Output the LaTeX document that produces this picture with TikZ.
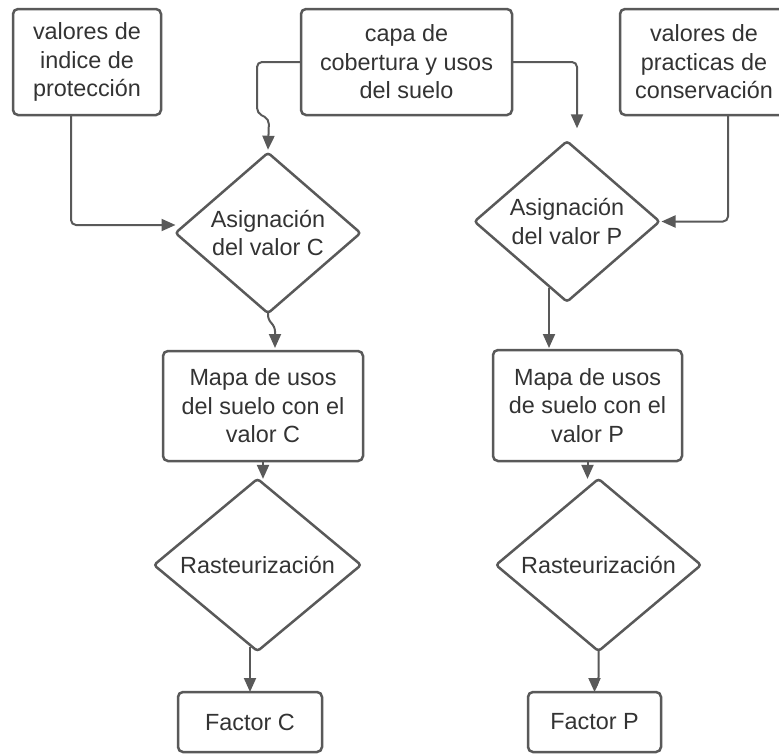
\documentclass[tikz,border=0pt]{standalone}
\usepackage{fontspec}
\setmainfont{Liberation Sans}
\usetikzlibrary{shapes.geometric,arrows.meta,calc}
\definecolor{linec}{HTML}{595959}
\definecolor{textc}{HTML}{333333}
\tikzset{
  base/.style={draw=linec, line width=2.5pt, fill=white, inner sep=0pt, outer sep=0pt,
    align=center, text=textc, font=\fontsize{23.4}{28.5}\selectfont},
  procbox/.style={base, rectangle, rounded corners=5pt},
  decbox/.style={base, diamond, rounded corners=3pt},
  wire/.style={draw=linec, line width=2pt, rounded corners=5pt},
  conn/.style={wire, -{Triangle[length=14pt,width=12pt]}}
}
\begin{document}
\begin{tikzpicture}[x=1pt,y=-1pt]
\useasboundingbox (0,0) rectangle (779,755);
% top row
\node[procbox, minimum width=148pt, minimum height=106pt] (b1) at (87,62) {valores de\\indice de\\protección};
\node[procbox, minimum width=211pt, minimum height=106pt] (b2) at (406.5,62) {capa de\\cobertura y usos\\del suelo};
\node[procbox, minimum width=168pt, minimum height=106pt] (b3) at (704,62) {valores de\\practicas de\\conservación};
% decisions
\node[decbox, minimum width=185pt, minimum height=144pt] (dC) at (268,233) {Asignación\\del valor C};
\node[decbox, minimum width=185pt, minimum height=145pt] (dP) at (567,221.5) {Asignación\\del valor P};
% maps
\node[procbox, minimum width=200pt, minimum height=110pt] (MC) at (263,406) {Mapa de usos\\del suelo con el\\valor C};
\node[procbox, minimum width=189pt, minimum height=111pt] (MP) at (587.5,405.5) {Mapa de usos\\de suelo con el\\valor P};
% rasterization
\node[decbox, minimum width=207pt, minimum height=122pt] (RC) at (257.5,565) {Rasteurización};
\node[decbox, minimum width=205pt, minimum height=122pt] (RP) at (598.5,565) {Rasteurización};
% factors
\node[procbox, minimum width=144pt, minimum height=60pt] (FC) at (250,722) {Factor C};
\node[procbox, minimum width=133pt, minimum height=60pt] (FP) at (594.5,722) {Factor P};
% connectors
\draw[conn] ($(b1.south)+(-16,0)$) |- ($(dC.west)+(0,-8)$);
\draw[conn] (b2.west) -- ++(-44,0) -- ++(0,51) -- ++(12,6) -- ($(dC.north)+(0,-3)$);
\draw[conn] (b2.east) -| ($(dP.north)+(10,-13)$);
\draw[conn] ($(b3.south)+(24,0)$) |- ($(dP.east)+(2,0)$);
\draw[conn] (dC.south) -- ++(0,7) -- ++(7,6) -- ($(MC.north)+(12,-3)$);
\draw[conn] ($(dP.south)+(-18,-14)$) -- ($(MP.north)+(-38.5,-2)$);
\draw[conn] (MC.south) -- (MC.south |- RC.north);
\draw[conn] (MP.south) -- (MP.south |- RP.north);
\draw[conn] ($(RC.south)+(-7.5,-4.5)$) -- (FC.north);
\draw[wire] (RP.south) -- ++(0,31) -- ++(-4,7) coordinate (jP);
\draw[conn] (jP) -- (FP.north);
\end{tikzpicture}
\end{document}
